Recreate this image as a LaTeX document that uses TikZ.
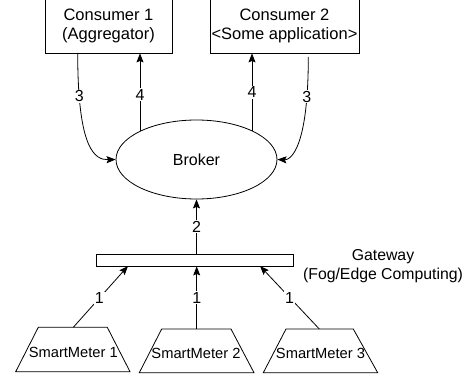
\documentclass[tikz,border=0pt]{standalone}
\usepackage{fontspec}
\setmainfont{Liberation Sans}
\usetikzlibrary{arrows.meta,shapes.geometric}
\begin{document}
\begin{tikzpicture}[x=1pt,y=-1pt,
  line width=0.8pt,
  box/.style={draw, rectangle, inner sep=0pt, align=center, font=\fontsize{16.5}{19}\selectfont},
  arr/.style={-{Stealth[length=9pt,width=7pt,inset=1.5pt]}},
  lbl/.style={fill=white, inner sep=1pt, font=\fontsize{16}{18}\selectfont},
  meter/.style={draw, line join=miter},
  mtext/.style={inner sep=0pt, font=\fontsize{14.7}{17}\selectfont}]
\useasboundingbox (0,0) rectangle (471,377);
% consumers
\node[box, minimum width=127pt, minimum height=55pt] (c1) at (108.5,25.5) {Consumer 1\\(Aggregator)};
\node[box, minimum width=149pt, minimum height=55pt] (c2) at (284.5,25.5) {Consumer 2\\<Some application>};
% broker
\node[draw, ellipse, minimum width=161pt, minimum height=79pt, inner sep=0pt,
      font=\fontsize{16}{19}\selectfont] (broker) at (196.5,159.5) {Broker};
% gateway
\node[draw, rectangle, minimum width=197pt, minimum height=11.5pt, inner sep=0pt] (gw) at (194.5,260.25) {};
\node[align=center, inner sep=0pt, font=\fontsize{15.8}{19}\selectfont] (gwl) at (383,266) {Gateway\\(Fog/Edge Computing)};
% smart meters
\draw[meter] (38.3,327.3) -- (107.3,327.3) -- (130,371.7) -- (15.7,371.7) -- cycle;
\draw[meter] (161.7,329) -- (231,329) -- (254,372.7) -- (139.3,372.7) -- cycle;
\draw[meter] (286,329) -- (353.3,329) -- (377.7,372.7) -- (263.3,372.7) -- cycle;
\node[mtext] (sm1) at (73.3,352.5) {SmartMeter 1};
\node[mtext] (sm2) at (196,353.5) {SmartMeter 2};
\node[mtext] (sm3) at (320.5,353.5) {SmartMeter 3};
\coordinate (sm1t) at (73.3,327.3);
\coordinate (sm2t) at (196.7,329);
\coordinate (sm3t) at (319.3,329);
% connector endpoints
\coordinate (c1a) at (77.7,53);
\coordinate (c2a) at (308.3,57);
\coordinate (b4l) at (140,131.4);
\coordinate (b4r) at (252,130.9);
% 3: consumers -> broker
\draw[arr] (c1a) .. controls (77.7,150) and (95,160) .. (broker.west) node[lbl, pos=0.175] {3};
\draw[arr] (c2a) .. controls (308.3,150) and (290,160) .. (broker.east) node[lbl, pos=0.165] {3};
% 4: broker -> consumers
\draw[arr] (b4l) -- node[lbl, pos=0.47] {4} (b4l |- c1.south);
\draw[arr] (b4r) -- node[lbl, pos=0.5] {4} (b4r |- c2.south);
% 2: gateway -> broker
\draw[arr] (gw.north -| broker.south) -- node[lbl] {2} (broker.south);
% 1: meters -> gateway
\draw[arr] (sm1t) -- node[lbl, pos=0.475] {1} (128,266);
\draw[arr] (sm2t) -- node[lbl, pos=0.5] {1} (sm2t |- gw.south);
\draw[arr] (sm3t) -- node[lbl, pos=0.5] {1} (260,266);
\end{tikzpicture}
\end{document}
